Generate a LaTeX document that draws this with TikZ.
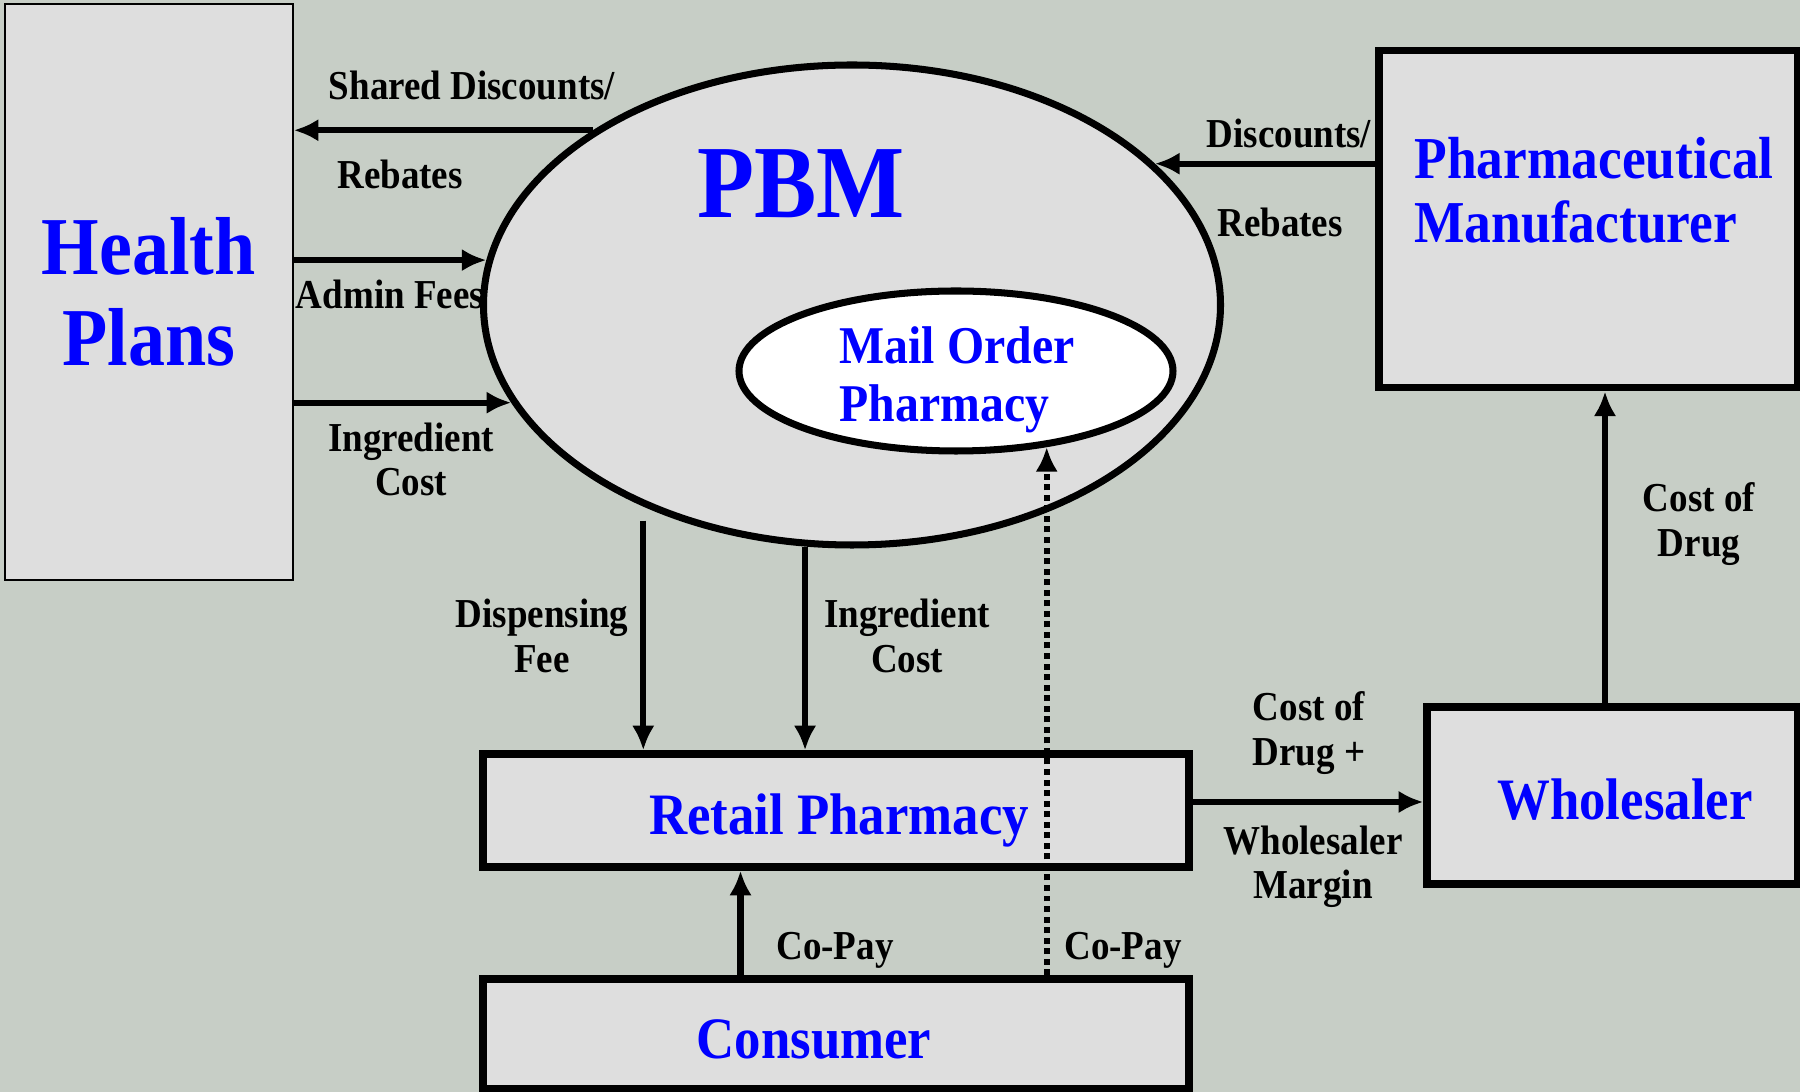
\documentclass[tikz,border=0pt]{standalone}
\usepackage{fontspec}
\setmainfont[FakeStretch=0.9]{Liberation Serif}
\usepackage{xcolor}
\usepackage{tikz}
\usetikzlibrary{arrows.meta,shapes.geometric}

\definecolor{backdrop}{HTML}{C7CEC6}
\definecolor{boxgrey}{HTML}{DEDEDE}
\definecolor{entityblue}{HTML}{0000FF}

\begin{document}
\begin{tikzpicture}
			\tikzstyle{box} = [draw, line width=2.1pt, fill=boxgrey, inner sep=0pt]
			\tikzstyle{entity} = [text=entityblue, align=center, inner sep=0pt, font=\bfseries\fontsize{16.7}{18}\selectfont]
			\tikzstyle{money} = [inner sep=0pt, align=center, font=\bfseries\fontsize{11.7}{12.6}\selectfont]
			\tikzset{edge/.style = {line width=1.8pt, -{Latex[length=7pt,width=6.4pt]}}}
			\tikzset{mailpay/.style = {edge, line width=1.6pt, dash pattern=on 1.7pt off 1.3pt}}
			
			\fill[backdrop] (0,0) rectangle (18,-10.92);
			\useasboundingbox (0,0) rectangle (18,-10.92);
			
			% who pays whom
			\node[box, entity, line width=0.6pt, minimum width=2.88cm, minimum height=5.76cm, font=\bfseries\fontsize{23.4}{25.9}\selectfont](plans) at (1.487,-2.916) {Health\\Plans};
			\node[ellipse, draw, line width=2pt, fill=boxgrey, inner sep=0pt, minimum width=7.37cm, minimum height=4.8cm](pbm) at (8.52,-3.05) {};
			\node[entity, font=\bfseries\fontsize{29.5}{31}\selectfont](pbmtext) at (8.01,-1.84) {PBM};
			\node[ellipse, draw, line width=2pt, fill=white, inner sep=0pt, minimum width=4.34cm, minimum height=1.6cm](mail) at (9.56,-3.71) {};
			\node[entity, align=left, font=\bfseries\fontsize{15.1}{16.4}\selectfont](mailtext) at (9.57,-3.8) {Mail Order\\Pharmacy};
			
			\node[box, minimum width=4.19cm, minimum height=3.375cm](mfr) at (15.885,-2.19) {};
			\node[entity, align=left, font=\bfseries\fontsize{16.9}{18.2}\selectfont](mfrtext) at (15.94,-1.9) {Pharmaceutical\\Manufacturer};
			\node[box, minimum width=3.71cm, minimum height=1.77cm](whole) at (16.125,-7.955) {};
			\node[entity](wholetext) at (16.25,-8.0) {Wholesaler};
			\node[box, minimum width=7.06cm, minimum height=1.13cm](retail) at (8.36,-8.105) {};
			\node[entity](retailtext) at (8.39,-8.2) {Retail Pharmacy};
			\node[box, minimum width=7.06cm, minimum height=1.1cm](consumer) at (8.36,-10.34) {};
			\node[entity](consumertext) at (8.14,-10.39) {Consumer};
			
			\draw[edge](pbm.146) to (pbm.146 -| plans.east);
			\draw[edge](plans.east |- pbm.173) to (pbm.173);
			\draw[edge](plans.east |- pbm.196) to (pbm.196);
			\draw[edge](mfr.west |- pbm.25) to (pbm.25);
			\draw[edge]([yshift=-0.14cm]pbm.224) to (pbm.224 |- retail.north);
			\draw[edge](pbm.259) to (pbm.259 |- retail.north);
			\draw[edge]([xshift=-0.955cm]consumer.north) to ([xshift=-0.955cm]retail.south);
			\draw[mailpay](mail.320 |- consumer.north) to (mail.320);
			\draw[edge]([yshift=0.085cm]retail.east) to ([yshift=0.085cm]retail.east -| whole.west);
			\draw[edge]([xshift=-0.075cm]whole.north) to ([xshift=-0.075cm]whole.north |- mfr.south);
			
			% flow labels
			\node[money](shared) at (4.72,-0.85) {Shared Discounts/};
			\node[money](sharedreb) at (4.0,-1.74) {Rebates};
			\node[money](admin) at (3.9,-2.94) {Admin Fees};
			\node[money](ingplans) at (4.11,-4.595) {Ingredient\\Cost};
			\node[money](disc) at (12.89,-1.33) {Discounts/};
			\node[money](discreb) at (12.8,-2.22) {Rebates};
			\node[money](dispfee) at (5.42,-6.36) {Dispensing\\Fee};
			\node[money](ingretail) at (9.07,-6.36) {Ingredient\\Cost};
			\node[money](copay) at (8.35,-9.5) {Co-Pay};
			\node[money](copaymail) at (11.23,-9.5) {Co-Pay};
			\node[money](drugplus) at (13.09,-7.33) {Cost of\\Drug +};
			\node[money](margin) at (13.13,-8.67) {Wholesaler\\Margin};
			\node[money](drugcost) at (16.99,-5.24) {Cost of\\Drug};
			
\end{tikzpicture}
\end{document}
